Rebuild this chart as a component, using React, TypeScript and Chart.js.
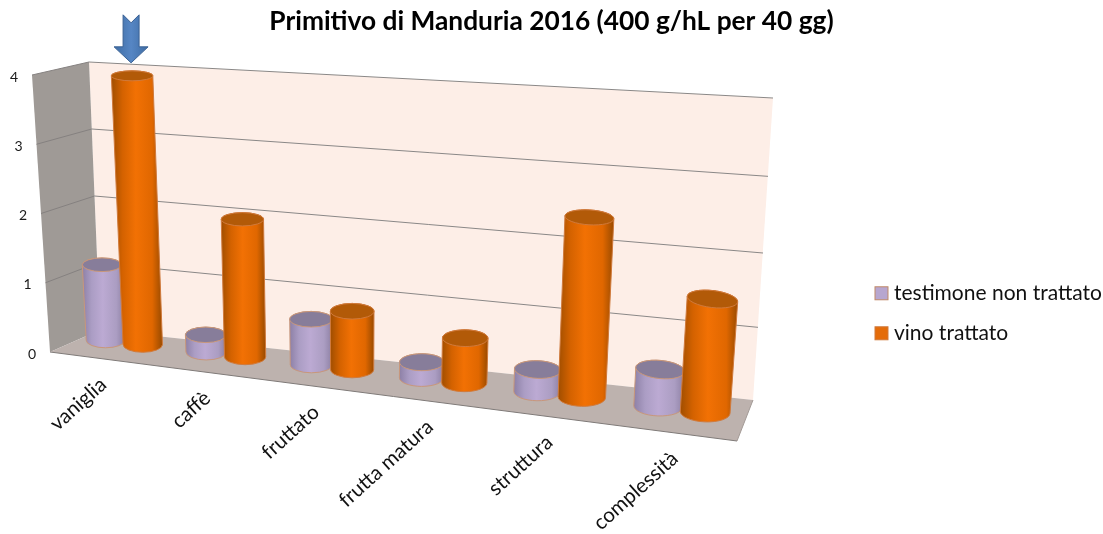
import React, { useEffect, useRef } from "react";
import { Chart, registerables } from "chart.js";

Chart.register(...registerables);

const categories = ["vaniglia", "caffè", "fruttato", "frutta matura", "struttura", "complessità"];
const controlValues = [1.11, 0.25, 0.65, 0.22, 0.31, 0.51];
const treatedValues = [3.92, 1.98, 0.83, 0.63, 2.46, 1.54];
const seriesNames = ["testimone non trattato", "vino trattato"];
const seriesColors = ["#b7a6cf", "#e46c0a"];
const seriesBorders = ["#c08a68", "#d07a3c"];
const titleText = "Primitivo di Manduria 2016 (400 g/hL per 40 gg)";

const FONT = "Lato, Carlito, 'Open Sans', sans-serif";

// Perspective frame of the plot box: [depth][height][side]
const backLeft0 = [100, 330], backLeft1 = [89, 62], backRight0 = [753, 400], backRight1 = [773, 98];
const frontLeft0 = [50, 352], frontLeft1 = [32, 75], frontRight0 = [737, 441], frontRight1 = [759, 131];
const PERSPECTIVE = 1.15;
const lerp = (a: number, b: number, k: number) => a + (b - a) * k;

function project(t: number, v: number, d: number) {
  const u = t / (t + PERSPECTIVE * (1 - t));
  const out = [0, 0];
  for (let i = 0; i < 2; i++) {
    const back = lerp(lerp(backLeft0[i], backRight0[i], u), lerp(backLeft1[i], backRight1[i], u), v);
    const front = lerp(lerp(frontLeft0[i], frontRight0[i], u), lerp(frontLeft1[i], frontRight1[i], u), v);
    out[i] = lerp(back, front, d);
  }
  out[1] += 4 * Math.sin(Math.PI * v) * u;
  return { x: out[0], y: out[1], u };
}

function poly(ctx: CanvasRenderingContext2D, pts: { x: number; y: number }[], fill: string) {
  ctx.beginPath();
  pts.forEach((p, i) => (i ? ctx.lineTo(p.x, p.y) : ctx.moveTo(p.x, p.y)));
  ctx.closePath();
  ctx.fillStyle = fill;
  ctx.fill();
}

function line(ctx: CanvasRenderingContext2D, a: { x: number; y: number }, b: { x: number; y: number }, c: string, w = 1) {
  ctx.beginPath();
  ctx.moveTo(a.x, a.y);
  ctx.lineTo(b.x, b.y);
  ctx.strokeStyle = c;
  ctx.lineWidth = w;
  ctx.stroke();
}

const stylesBySeries = [
  {
    stops: ["#8d80a6", "#ab9dc4", "#bcaad3", "#ab9dc2", "#8b7ea2"],
    top: "#877d9a",
    edge: "#c9977a",
  },
  {
    stops: ["#a04e00", "#d46200", "#f27104", "#e06700", "#984a00"],
    top: "#b25a08",
    edge: "#d07a3c",
  },
];

function drawCylinder(ctx: CanvasRenderingContext2D, area: any, el: any, style: any) {
  const t = (el.x - area.left) / area.width;
  const half = el.width / 2 / area.width;
  const v = (area.bottom - el.y) / area.height;
  const axis = (h: number) => {
    const px = project(t, h, 0.5);
    const u = px.u;
    const py = project(t, h, 0.3 + 0.12 * u);
    const l = project(t - half, h, 0.5);
    const r = project(t + half, h, 0.5);
    const value = h * 4;
    return {
      x: px.x,
      y: py.y,
      rx: (r.x - l.x) / 2,
      ry: 7.5 + 2.2 * u - 0.7 * value,
      rot: Math.atan(0.12 * Math.max(0, (u - 0.55) / 0.4) * (h > 0 ? 1 : 0.35)),
    };
  };
  const B = axis(0);
  const T = axis(v);
  const grad = ctx.createLinearGradient(Math.min(T.x - T.rx, B.x - B.rx), 0, Math.max(T.x + T.rx, B.x + B.rx), 0);
  [0, 0.22, 0.48, 0.8, 1].forEach((s, i) => grad.addColorStop(s, style.stops[i]));
  ctx.beginPath();
  ctx.ellipse(B.x, B.y, B.rx, B.ry, B.rot, Math.PI, 0, true);
  ctx.lineTo(T.x + T.rx * Math.cos(T.rot), T.y + T.rx * Math.sin(T.rot));
  ctx.ellipse(T.x, T.y, T.rx, T.ry, T.rot, 0, Math.PI, true);
  ctx.closePath();
  ctx.fillStyle = grad;
  ctx.fill();
  ctx.strokeStyle = style.edge;
  ctx.lineWidth = 1;
  ctx.stroke();
  ctx.beginPath();
  ctx.ellipse(T.x, T.y, T.rx, T.ry, T.rot, 0, Math.PI * 2);
  ctx.fillStyle = style.top;
  ctx.fill();
  ctx.stroke();
  return T;
}

const scene = {
  id: "scene3d",
  beforeDatasetDraw: () => false,
  beforeDatasetsDraw(chart: any) {
    const { ctx, chartArea: area, scales } = chart;
    ctx.save();
    // walls and floor
    poly(ctx, [project(0, 0, 0), project(0, 1, 0), project(1, 1, 0), project(1, 0, 0)], "#fdeee7");
    poly(ctx, [project(0, 0, 0), project(0, 1, 0), project(0, 1, 1), project(0, 0, 1)], "#9f9a96");
    poly(ctx, [project(0, 0, 0), project(1, 0, 0), project(1, 0, 1), project(0, 0, 1)], "#bdb2ae");
    line(ctx, project(0, 0, 1), project(1, 0, 1), "#7f7a78");
    line(ctx, project(1, 0, 1), project(1, 0, 0), "#a39a96");
    // grid and value labels from the value scale
    ctx.font = `14px ${FONT}`;
    ctx.textAlign = "center";
    ctx.textBaseline = "middle";
    for (const tick of scales.y.ticks) {
      const v = (area.bottom - scales.y.getPixelForValue(tick.value)) / area.height;
      if (v > 0) {
        line(ctx, project(0, v, 0), project(1, v, 0), "#8a8887");
        line(ctx, project(0, v, 1), project(0, v, 0), "#858180");
      }
      const p = project(0, v, 1);
      ctx.fillStyle = "#1a1a1a";
      ctx.fillText(String(tick.value), p.x - 18, p.y + 2);
    }
    // category labels from the category scale
    ctx.font = `20.5px ${FONT}`;
    ctx.textAlign = "right";
    scales.x.ticks.forEach((tick: any, i: number) => {
      const t = (scales.x.getPixelForTick(i) - area.left) / area.width;
      const p = project(t, 0, 1);
      ctx.save();
      ctx.translate(p.x + 3, p.y + 23);
      ctx.rotate((-42 * Math.PI) / 180);
      ctx.fillStyle = "#111";
      ctx.fillText(categories[tick.value], 0, 0);
      ctx.restore();
    });
    ctx.restore();
  },
  afterDatasetsDraw(chart: any) {
    const { ctx, chartArea: area } = chart;
    ctx.save();
    const metas = [chart.getDatasetMeta(0), chart.getDatasetMeta(1)];
    let firstTreatedTop: any = null;
    categories.forEach((_, i) => {
      drawCylinder(ctx, area, metas[0].data[i], stylesBySeries[0]);
      const top = drawCylinder(ctx, area, metas[1].data[i], stylesBySeries[1]);
      if (i === 0) firstTreatedTop = top;
    });
    // arrow callout pointing at the first treated cylinder
    const ax = firstTreatedTop.x - 1;
    const ay = firstTreatedTop.y - 13;
    ctx.beginPath();
    [[-8, -48], [0, -40], [8, -48], [8, -16], [17, -16], [0, 0], [-17, -16], [-8, -16]].forEach(([dx, dy], i) =>
      i ? ctx.lineTo(ax + dx, ay + dy) : ctx.moveTo(ax + dx, ay + dy)
    );
    ctx.closePath();
    const g = ctx.createLinearGradient(ax - 17, 0, ax + 17, 0);
    g.addColorStop(0, "#3e6ca3");
    g.addColorStop(0.5, "#5686c4");
    g.addColorStop(1, "#3e6ca3");
    ctx.fillStyle = g;
    ctx.fill();
    ctx.strokeStyle = "#3a6194";
    ctx.lineWidth = 1;
    ctx.stroke();
    ctx.restore();
  },
  afterDraw(chart: any) {
    // legend swatches sit closer to their text than the stock legend allows
    const { ctx } = chart;
    const boxes = chart.legend?.legendHitBoxes || [];
    ctx.save();
    boxes.forEach((b: any, i: number) => {
      const y = b.top + b.height / 2 - 6.5;
      ctx.fillStyle = seriesColors[i];
      ctx.strokeStyle = seriesBorders[i];
      ctx.lineWidth = 1;
      ctx.fillRect(b.left - 5.5, y, 13, 13);
      ctx.strokeRect(b.left - 5.5, y, 13, 13);
    });
    ctx.restore();
  },
};

export default function App() {
  const ref = useRef<HTMLCanvasElement>(null);
  useEffect(() => {
    const chart = new Chart(ref.current as HTMLCanvasElement, {
      type: "bar",
      data: {
        labels: categories,
        datasets: seriesNames.map((label, i) => ({
          label,
          data: i === 0 ? controlValues : treatedValues,
          backgroundColor: "rgba(0,0,0,0)",
          borderColor: "rgba(0,0,0,0)",
          borderWidth: 0,
        })),
      },
      options: {
        animation: false,
        responsive: false,
        categoryPercentage: 0.75,
        barPercentage: 1.05,
        layout: { padding: { left: -9, right: -9 } },
        scales: {
          x: { display: false },
          y: { display: false, min: 0, max: 4, ticks: { stepSize: 1 } },
        },
        plugins: {
          tooltip: { enabled: false },
          title: {
            display: true,
            text: titleText,
            color: "#000",
            font: { family: FONT, size: 26.3, weight: "bold" },
            padding: { top: 6, bottom: 55 },
          },
          legend: {
            position: "right",
            fullSize: false,
            labels: {
              color: "#111",
              boxWidth: 3,
              boxHeight: 13,
              padding: 19,
              font: { family: FONT, size: 21 },
            },
          },
        },
      } as any,
      plugins: [scene],
    });
    return () => chart.destroy();
  }, []);
  return (
    <canvas
      ref={ref}
      width={1103}
      height={534}
      style={{ position: "absolute", left: 0, top: 0, width: 1103, height: 534 }}
    />
  );
}
